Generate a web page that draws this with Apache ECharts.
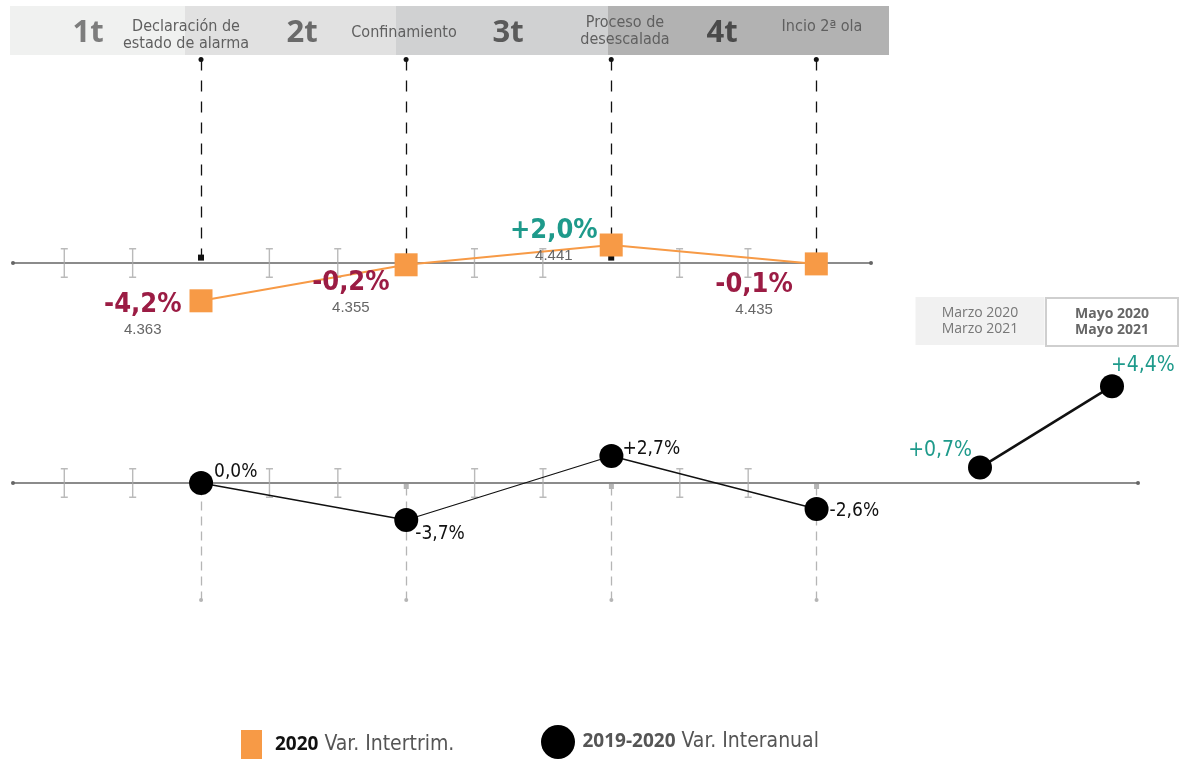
<!DOCTYPE html>
<html>
<head>
<meta charset="utf-8">
<script src="https://cdn.jsdelivr.net/npm/echarts@6/dist/echarts.min.js"></script>
<style>
html,body{margin:0;padding:0;background:#fff;}
#chart{width:1189px;height:760px;}
</style>
</head>
<body>
<div id="chart"></div>
<script>
// ---------- DATA ----------
var quarterMonths = [3, 6, 9, 12];                 // quarter position on a month scale
var monthTicks = [1, 2, 4, 5, 7, 8, 10, 11];       // intermediate month ticks
var quarterNames = ['1t', '2t', '3t', '4t'];
var quarterEvents = ['Declaración de\nestado de alarma', 'Confinamiento', 'Proceso de\ndesescalada', 'Incio 2ª ola'];
var intertrimValues = [-4.2, -0.2, 2.0, -0.1];      // 2020 Var. Intertrim. (%)
var intertrimCounts = [4363, 4355, 4441, 4435];
var interanualValues = [0.0, -3.7, 2.7, -2.6];      // 2019-2020 Var. Interanual (%)
var recentCategories = ['Marzo 2020\nMarzo 2021', 'Mayo 2020\nMayo 2021'];
var recentValues = [0.7, 4.4];
var seriesNames = ['2020 Var. Intertrim.', '2019-2020 Var. Interanual'];

// ---------- STYLE ----------
var NARROW = '"Liberation Sans Narrow","DejaVu Sans Condensed","Roboto Condensed",sans-serif';
var ORANGE = '#f79a46', RED = '#9b1c44', TEAL = '#1e9a8b';
function pct(v) { return (v > 0 ? '+' : '') + v.toFixed(1).replace('.', ',') + '%'; }
function thousands(n) { return String(n).replace(/\B(?=(\d{3})+(?!\d))/g, '.'); }

var orangeLabelOffsets = [[-2, 15], [1, 29], [4, -3], [-6, 32]];
var blackLabelLayout = [
  {position: 'right', offset: [-4, -11]},
  {position: 'right', offset: [-8, 14]},
  {position: 'right', offset: [-6, -7]},
  {position: 'right', offset: [-4, 2]}
];
var recentLabelLayout = [
  {position: 'left', offset: [9, -17]},
  {position: 'right', offset: [-18, -21]}
];

var chart = echarts.init(document.getElementById('chart'));

var tickPath = 'path://M0,0H7V1.5H4.2V28.5H7V30H0V28.5H2.8V1.5H0Z';

function axisX(gridIndex, max) {
  return {
    type: 'value', gridIndex: gridIndex, min: 0.25, max: max,
    axisLine: {show: true, onZero: true, symbol: ['circle', 'circle'], symbolSize: [4, 4],
      lineStyle: {color: '#666', width: 1.6}},
    axisTick: {show: false}, axisLabel: {show: false}, splitLine: {show: false}
  };
}
function axisY(gridIndex, min, max) {
  return {type: 'value', gridIndex: gridIndex, min: min, max: max, show: false,
    axisLine: {show: false}, splitLine: {show: false}};
}

var orangeData = intertrimValues.map(function (v, i) {
  return {
    value: [quarterMonths[i], v],
    label: {
      show: true, position: 'left', distance: 6, offset: orangeLabelOffsets[i],
      formatter: '{p|' + pct(v) + '}\n{n|' + thousands(intertrimCounts[i]) + '}',
      rich: {
        p: {fontFamily: NARROW, fontWeight: 'bold', fontSize: 27, color: v > 0 ? TEAL : RED, lineHeight: 28, align: 'center'},
        n: {fontFamily: '"Liberation Sans",Arial,sans-serif', fontSize: 15, color: '#666', lineHeight: 22, align: 'center'}
      }
    }
  };
});

var blackData = interanualValues.map(function (v, i) {
  return {
    value: [quarterMonths[i], v],
    label: {show: true, position: blackLabelLayout[i].position, offset: blackLabelLayout[i].offset,
      formatter: pct(v), fontFamily: NARROW, fontSize: 19, color: '#111'}
  };
});

var recentData = recentValues.map(function (v, i) {
  return {
    value: v,
    label: {show: true, position: recentLabelLayout[i].position, offset: recentLabelLayout[i].offset,
      formatter: pct(v), fontFamily: NARROW, fontSize: 21, color: TEAL}
  };
});

var topDashes = quarterMonths.map(function (m) {
  return [{coord: [m, 22.6], symbol: 'circle', symbolSize: 5}, {coord: [m, 0.6], symbol: 'rect', symbolSize: 6}];
});
var bottomDashes = quarterMonths.map(function (m) {
  return [{coord: [m, -0.35], symbol: 'rect', symbolSize: 5}, {coord: [m, -11.7], symbol: 'circle', symbolSize: 4}];
});

// header band
var headerRects = [
  {x: 10, w: 175, c: '#f0f1f0'}, {x: 185, w: 211, c: '#e1e1e1'},
  {x: 396, w: 212, c: '#d0d1d2'}, {x: 608, w: 281, c: '#b2b2b2'}
];
var headerNumX = [88, 302, 508, 722];
var headerNumColor = ['#7d7d7d', '#6a6a6a', '#5a5a5a', '#4a4a4a'];
var headerEvtX = [186, 404, 625, 822];
var headerEvtY = [35, 33, 31, 27];
var graphics = [];
headerRects.forEach(function (r) {
  graphics.push({type: 'rect', shape: {x: r.x, y: 6, width: r.w, height: 49}, style: {fill: r.c}, silent: true, z: 0});
});
quarterNames.forEach(function (q, i) {
  graphics.push({type: 'text', x: headerNumX[i], y: 33, z: 2,
    style: {text: q, fontFamily: '"Open Sans","DejaVu Sans",sans-serif', fontWeight: 'bold', fontSize: 31,
      fill: headerNumColor[i], align: 'center', verticalAlign: 'middle'}});
});
quarterEvents.forEach(function (t, i) {
  graphics.push({type: 'text', x: headerEvtX[i], y: headerEvtY[i], z: 2,
    style: {text: t, fontFamily: NARROW, fontSize: 16, lineHeight: 17, fill: '#5f5f5f', align: 'center', verticalAlign: 'middle'}});
});

function legendFmt(n) { var k = n.indexOf(' '); return '{b|' + n.slice(0, k) + '}{r| ' + n.slice(k + 1) + '}'; }

var option = {
  backgroundColor: '#fff',
  animation: false,
  graphic: graphics,
  legend: [
    {data: [seriesNames[0]], left: 241, top: 730, padding: 0, icon: 'rect', itemWidth: 21, itemHeight: 29, itemGap: 6,
      selectedMode: false, formatter: legendFmt,
      textStyle: {rich: {
        b: {fontFamily: '"Open Sans",sans-serif', fontWeight: 'bold', fontSize: 19, color: '#111', padding: [0, 0, 0, 8]},
        r: {fontFamily: NARROW, fontSize: 21, color: '#555'}}}},
    {data: [seriesNames[1]], left: 541, top: 725, padding: 0, icon: 'circle', itemWidth: 35, itemHeight: 34,
      selectedMode: false, formatter: legendFmt,
      textStyle: {rich: {
        b: {fontFamily: '"Open Sans",sans-serif', fontWeight: 'bold', fontSize: 19, color: '#555', padding: [0, 0, 0, 2]},
        r: {fontFamily: NARROW, fontSize: 21, color: '#555'}}}}
  ],
  grid: [
    {left: 13, right: 318, top: 56, height: 279},     // top: 2020 intertrim
    {left: 13, right: 51, top: 423, height: 180},     // bottom: interanual by quarter
    {left: 914, right: 11, top: 351, height: 242}     // right panel
  ],
  xAxis: [
    axisX(0, 12.8),
    axisX(1, 16.7),
    {type: 'category', gridIndex: 2, data: [
        {value: recentCategories[0], textStyle: {color: '#777', fontWeight: 'normal', backgroundColor: '#f1f1f1',
          width: 129, padding: [8, 0, 8, 0], lineHeight: 16}},
        {value: recentCategories[1], textStyle: {color: '#666', fontWeight: 'bold', backgroundColor: '#fff',
          borderColor: '#cfcfcf', borderWidth: 2, width: 130, padding: [7, 0, 7, 0], lineHeight: 16}}
      ],
      position: 'top', boundaryGap: true,
      axisLine: {show: false, onZero: false}, axisTick: {show: false}, splitLine: {show: false},
      axisLabel: {show: true, margin: 6, interval: 0, fontFamily: '"Open Sans",sans-serif', fontSize: 14, align: 'center'}}
  ],
  yAxis: [axisY(0, -8, 23), axisY(1, -12, 6), axisY(2, -5, 6)],
  series: [
    {type: 'scatter', name: 'ticksTop', xAxisIndex: 0, yAxisIndex: 0, silent: true, z: 1,
      data: monthTicks.map(function (m) { return [m, 0]; }),
      symbol: tickPath, symbolSize: [7, 30], itemStyle: {color: '#a9a9a9'},
      markLine: {silent: true, animation: false, label: {show: false},
        lineStyle: {color: '#111', type: [11, 10], width: 1.3}, data: topDashes}},
    {type: 'scatter', name: 'ticksBottom', xAxisIndex: 1, yAxisIndex: 1, silent: true, z: 1,
      data: monthTicks.map(function (m) { return [m, 0]; }),
      symbol: tickPath, symbolSize: [7, 30], itemStyle: {color: '#a9a9a9'},
      markLine: {silent: true, animation: false, label: {show: false},
        lineStyle: {color: '#b5b5b5', type: [9, 6], width: 1.3}, data: bottomDashes}},
    {type: 'line', name: seriesNames[0], xAxisIndex: 0, yAxisIndex: 0, z: 5,
      data: orangeData, symbol: 'rect', symbolSize: 23,
      lineStyle: {color: ORANGE, width: 2}, itemStyle: {color: ORANGE}},
    {type: 'line', name: seriesNames[1], xAxisIndex: 1, yAxisIndex: 1, z: 5,
      data: blackData, symbol: 'circle', symbolSize: 24,
      lineStyle: {color: '#111', width: 1.3}, itemStyle: {color: '#000'}},
    {type: 'line', name: seriesNames[1], xAxisIndex: 2, yAxisIndex: 2, z: 5,
      data: recentData, symbol: 'circle', symbolSize: 24,
      lineStyle: {color: '#111', width: 2.6}, itemStyle: {color: '#000'}}
  ]
};
chart.setOption(option);
</script>
</body>
</html>
